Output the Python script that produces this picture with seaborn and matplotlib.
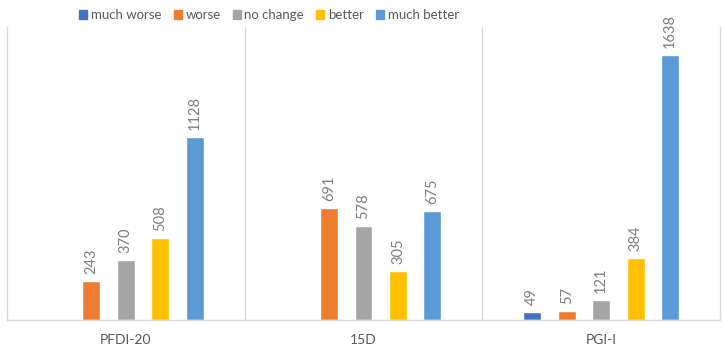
import numpy as np
import pandas as pd
import matplotlib
matplotlib.use("Agg")
import matplotlib.pyplot as plt
import seaborn as sns

groups = ["PFDI-20", "15D", "PGI-I"]
series = ["much worse", "worse", "no change", "better", "much better"]
much_worse = [np.nan, np.nan, 49]
worse = [243, 691, 57]
no_change = [370, 578, 121]
better = [508, 305, 384]
much_better = [1128, 675, 1638]
colors = ["#4472C4", "#ED7D31", "#A5A5A5", "#FFC000", "#5B9BD5"]

values = [much_worse, worse, no_change, better, much_better]
rows = []
for s, vals in zip(series, values):
    for g, v in zip(groups, vals):
        rows.append({"group": g, "series": s, "count": v})
df = pd.DataFrame(rows)

sns.set_theme(style="white")
plt.rcParams["font.family"] = ["Lato", "DejaVu Sans"]

fig = plt.figure(figsize=(7.23, 3.51), dpi=100)
ax = fig.add_axes([7 / 723, 1 - 320 / 351, 713 / 723, 293 / 351])

sns.barplot(data=df, x="group", y="count", hue="series", hue_order=series,
            order=groups, palette=colors, width=0.725, gap=0.48,
            saturation=1, ax=ax, legend=True)

ax.set_ylim(0, 1810)
ax.set_xlim(-0.5, 2.5)
ax.set_xlabel("")
ax.set_ylabel("")
ax.set_yticks([])

grid_col = "#D9D9D9"
ax.spines["top"].set_visible(False)
for side in ["left", "right", "bottom"]:
    ax.spines[side].set_color(grid_col)
    ax.spines[side].set_linewidth(1.0)
for xv in [0.5, 1.5]:
    ax.axvline(xv, color=grid_col, lw=1.0, zorder=0)

ax.tick_params(axis="x", length=0, pad=10, labelsize=10, labelcolor="#595959")

for cont in ax.containers:
    for bar in cont:
        h = bar.get_height()
        if np.isnan(h) or h == 0:
            continue
        ax.annotate(f"{int(round(h))}", (bar.get_x() + bar.get_width() / 2, h),
                    xytext=(0, 5), textcoords="offset points",
                    rotation=90, ha="center", va="bottom",
                    fontsize=10.5, color="#7F7F7F")

ax.get_legend().remove()
handles = [plt.Rectangle((0, 0), 1, 1, color=c) for c in colors]
fig.legend(handles, series, loc="center", bbox_to_anchor=(269 / 723, 1 - 15 / 351),
           ncol=5, frameon=False, fontsize=9.5, labelcolor="#595959",
           handlelength=0.6, handleheight=0.6, handletextpad=0.3,
           columnspacing=0.9)

fig.savefig("out.png", dpi=100)
